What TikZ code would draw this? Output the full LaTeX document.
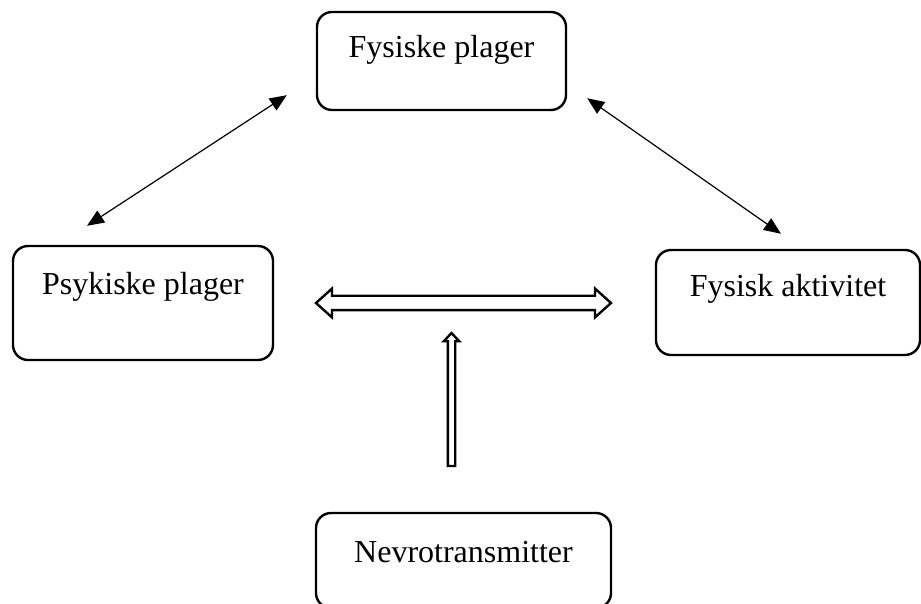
\documentclass[tikz,border=0pt]{standalone}
\usepackage{fontspec}
\setmainfont{Liberation Serif}
\usepackage{tikz}
\usetikzlibrary{arrows.meta,shapes.arrows,calc}

\begin{document}
\begin{tikzpicture}[x=0.5pt,y=-0.5pt,
  plage/.style={draw,line width=1.2pt,rounded corners=7.5pt,inner sep=0pt,anchor=base,
    font=\fontsize{16}{19}\selectfont},
  tynnpil/.style={line width=0.6pt,{Triangle[length=8.5pt,width=7pt]}-{Triangle[length=8.5pt,width=7pt]}},
  hulpil/.style={draw,line width=1.2pt,inner sep=0pt,minimum width=0pt}]
\useasboundingbox (0,0) rectangle (921,604);
\node[plage,minimum width=124.5pt,text height=23pt,text depth=26pt] (fysplag) at (441.5,58) {Fysiske plager};
\node[plage,minimum width=130pt,text height=24pt,text depth=33pt] (psyk) at (143,294) {Psykiske plager};
\node[plage,minimum width=132pt,text height=23.5pt,text depth=29pt] (fysakt) at (788,297) {Fysisk aktivitet};
\node[plage,minimum width=147.5pt,text height=24.5pt,text depth=23pt] (nevro) at (463.5,562) {Nevrotransmitter};
% tynne piler
\draw[tynnpil] ([shift={(-29,-16)}]fysplag.south west) -- ([shift={(-56,-19)}]psyk.north);
\draw[tynnpil] ([shift={(20,-13)}]fysplag.south east) -- ([shift={(-7,-15)}]fysakt.north);
% hule piler
\node[hulpil,double arrow,text height=6pt,double arrow head extend=3.6pt,
  double arrow tip angle=84,minimum height=147.5pt] (hpil) at (463.5,303) {};
\node[hulpil,single arrow,text height=2.5pt,single arrow head extend=2pt,
  single arrow tip angle=86,minimum height=66.5pt,rotate=90] (vpil) at (451.5,401.5) {};
\end{tikzpicture}
\end{document}
